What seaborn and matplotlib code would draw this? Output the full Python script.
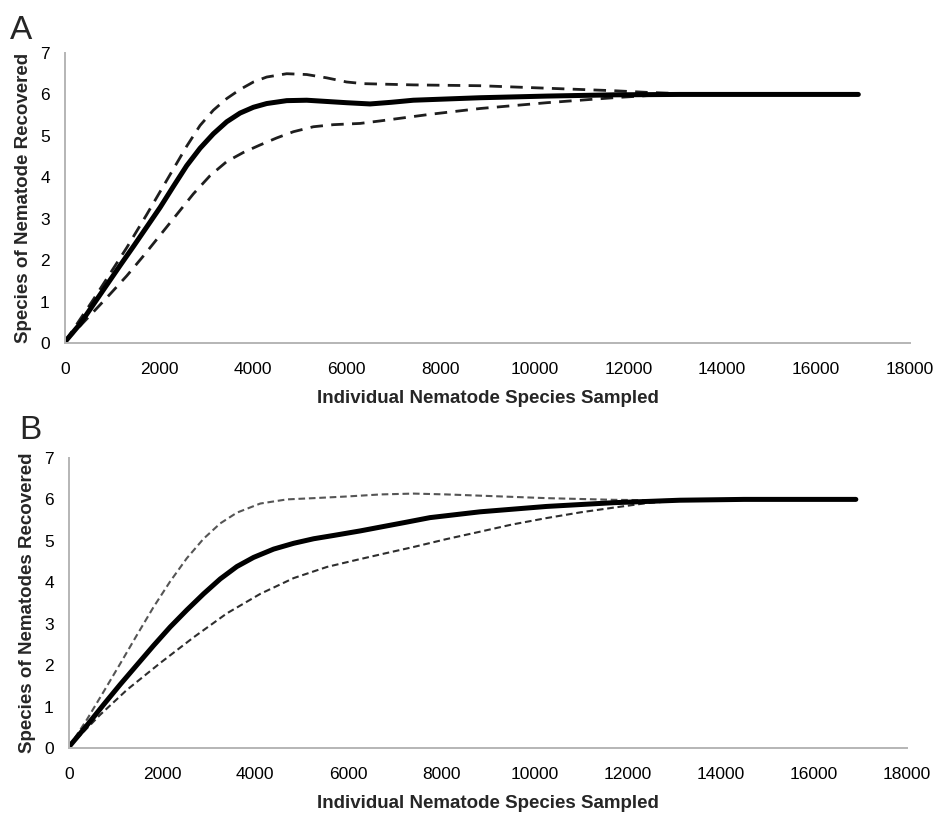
import pandas as pd
import matplotlib
matplotlib.use('Agg')
import matplotlib.pyplot as plt
import seaborn as sns

# ---- panel A : rarefaction curve with upper / lower bounds
a_mean_x = [0, 320, 604, 888, 1172, 1456, 1740, 2024, 2308, 2592, 2876, 3160, 3445, 3729, 4013, 4297,
            4723, 5149, 5575, 5999, 6498, 6950, 7420, 8841, 10262, 11680, 13100, 16900]
a_mean_y = [0.03, 0.46, 0.93, 1.4, 1.87, 2.33, 2.8, 3.27, 3.78, 4.28, 4.7, 5.05, 5.34, 5.55, 5.69, 5.78,
            5.85, 5.86, 5.83, 5.8, 5.77, 5.81, 5.86, 5.92, 5.96, 5.99, 6.0, 6.0]

a_upper_x = [0, 604, 888, 1314, 1740, 2024, 2308, 2592, 2876, 3160, 3445, 3729, 4013, 4297, 4723, 5149,
             5575, 5999, 6356, 7420, 8841, 10262, 11680, 12390, 13100, 14000, 16900]
a_upper_y = [0.03, 1.05, 1.55, 2.3, 3.1, 3.65, 4.2, 4.75, 5.25, 5.62, 5.9, 6.12, 6.3, 6.42, 6.5, 6.48,
             6.4, 6.3, 6.26, 6.23, 6.21, 6.15, 6.09, 6.05, 6.02, 6.0, 6.0]

a_lower_x = [0, 604, 959, 1314, 1669, 2024, 2379, 2734, 3090, 3445, 3800, 4155, 4510, 4865, 5291, 5717,
             6285, 6711, 7776, 8841, 10262, 11680, 12390, 13100, 14000, 16900]
a_lower_y = [0.03, 0.75, 1.18, 1.62, 2.1, 2.6, 3.1, 3.6, 4.04, 4.38, 4.6, 4.78, 4.95, 5.1, 5.22, 5.27,
             5.3, 5.36, 5.52, 5.66, 5.8, 5.92, 5.97, 6.0, 6.0, 6.0]

# ---- panel B
b_mean_x = [0, 380, 738, 1097, 1455, 1814, 2172, 2530, 2889, 3247, 3606, 3964, 4394, 4824, 5254, 5685,
            6258, 6680, 7200, 7753, 8827, 10260, 11690, 13120, 14500, 16900]
b_mean_y = [0.03, 0.54, 1.04, 1.53, 2.0, 2.47, 2.92, 3.33, 3.72, 4.08, 4.38, 4.6, 4.8, 4.94, 5.05, 5.13,
            5.24, 5.33, 5.44, 5.56, 5.7, 5.83, 5.92, 5.98, 6.0, 6.0]

b_upper_x = [0, 380, 738, 1097, 1455, 1814, 2172, 2530, 2889, 3247, 3606, 4108, 4681, 5254, 5964, 6700,
             7395, 8100, 8827, 10260, 11690, 12500, 13500, 16900]
b_upper_y = [0.03, 0.68, 1.35, 2.03, 2.72, 3.4, 4.02, 4.58, 5.05, 5.42, 5.68, 5.9, 6.0, 6.03, 6.07, 6.12,
             6.14, 6.12, 6.09, 6.03, 5.99, 5.98, 6.0, 6.0]

b_lower_x = [0, 667, 1240, 1957, 2674, 3391, 4108, 4824, 5541, 6178, 6800, 7395, 8100, 8827, 9500, 10260,
             11000, 11690, 12408, 13100, 14000, 16900]
b_lower_y = [0.03, 0.8, 1.4, 2.05, 2.67, 3.25, 3.72, 4.1, 4.37, 4.54, 4.7, 4.85, 5.04, 5.22, 5.39, 5.55,
             5.69, 5.8, 5.91, 5.97, 6.0, 6.0]

x_ticks = list(range(0, 18001, 2000))
y_ticks = list(range(0, 8))

sns.set_style('white')
plt.rcParams['font.family'] = ['Liberation Sans', 'DejaVu Sans']

fig = plt.figure(figsize=(9.33, 8.14), dpi=100)
axA = fig.add_axes([0.0697, 0.5786, 0.9056, 0.3563])
axB = fig.add_axes([0.0740, 0.0811, 0.8982, 0.3563])

panels = [
    (axA, 'Species of Nematode Recovered',
     (a_mean_x, a_mean_y), (a_upper_x, a_upper_y), (a_lower_x, a_lower_y),
     '#1e1e1e', '#1e1e1e', 2.0, (0, (4.5, 3))),
    (axB, 'Species of Nematodes Recovered',
     (b_mean_x, b_mean_y), (b_upper_x, b_upper_y), (b_lower_x, b_lower_y),
     '#555555', '#2e2e2e', 1.5, (0, (3.2, 1.8))),
]

for ax, ylab, mean, upper, lower, c_up, c_lo, dlw, dash in panels:
    up = pd.DataFrame({'x': upper[0], 'y': upper[1]})
    lo = pd.DataFrame({'x': lower[0], 'y': lower[1]})
    mn = pd.DataFrame({'x': mean[0], 'y': mean[1]})

    sns.lineplot(data=up, x='x', y='y', ax=ax, color=c_up, lw=dlw, linestyle=dash, errorbar=None)
    sns.lineplot(data=lo, x='x', y='y', ax=ax, color=c_lo, lw=dlw, linestyle=dash, errorbar=None)
    sns.lineplot(data=mn, x='x', y='y', ax=ax, color='black', lw=3.6, errorbar=None,
                 solid_capstyle='round', solid_joinstyle='round')

    ax.set_xlim(0, 18000)
    ax.set_ylim(0, 7)
    ax.set_xticks(x_ticks)
    ax.set_yticks(y_ticks)
    ax.set_xticklabels([str(t) for t in x_ticks])

    sns.despine(ax=ax, top=True, right=True)
    for s in ['left', 'bottom']:
        ax.spines[s].set_color('#b5b5b5')
        ax.spines[s].set_linewidth(1.4)

    ax.tick_params(axis='x', direction='out', length=4, width=1.2, color='#b5b5b5',
                   labelsize=12.5, pad=10, labelcolor='black')
    ax.tick_params(axis='y', length=0, labelsize=12.5, pad=11, labelcolor='black')

    ax.set_xlabel('Individual Nematode Species Sampled', fontsize=13.5, fontweight='bold')
    ax.set_ylabel(ylab, fontsize=13.5, fontweight='bold')
    ax.xaxis.set_label_coords(0.5, -0.162)
    ax.yaxis.set_label_coords(-0.039, 0.5)

fig.text(10 / 933, 1 - 39 / 814, 'A', fontsize=24, ha='left', va='baseline')
fig.text(19 / 933, 1 - 439 / 814, 'B', fontsize=24, ha='left', va='baseline')

plt.savefig('out.png', dpi=100)
